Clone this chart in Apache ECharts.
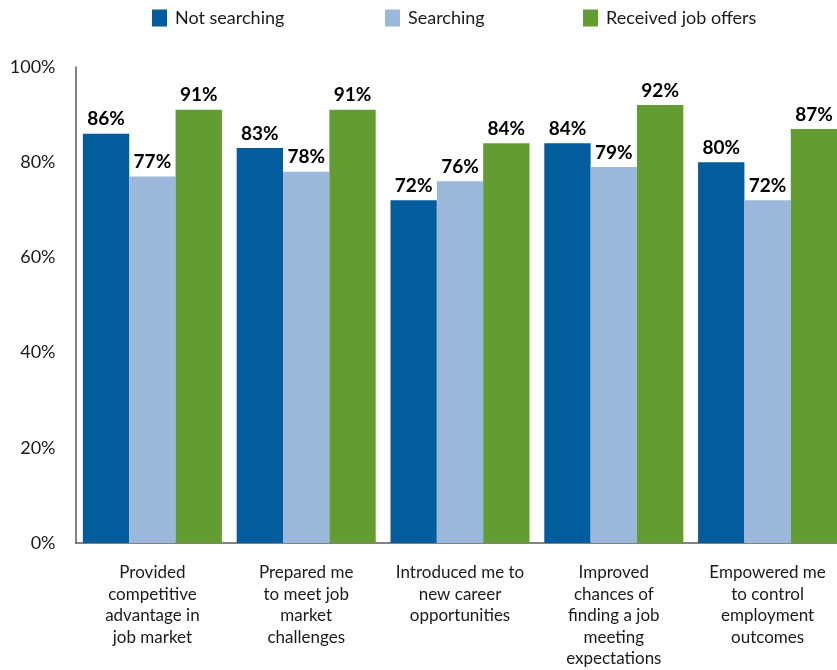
<!DOCTYPE html>
<html>
<head>
<meta charset="utf-8">
<script src="https://cdn.jsdelivr.net/npm/echarts@6/dist/echarts.min.js"></script>
<style>
  html, body { margin: 0; padding: 0; background: #fff; }
  #chart { width: 837px; height: 670px; }
</style>
</head>
<body>
<div id="chart"></div>
<script>
// Survey results: share of respondents agreeing, by job-search status
const categories = [
  'Provided\ncompetitive\nadvantage in\njob market',
  'Prepared me\nto meet job\nmarket\nchallenges',
  'Introduced me to\nnew career\nopportunities',
  'Improved\nchances of\nfinding a job\nmeeting\nexpectations',
  'Empowered me\nto control\nemployment\noutcomes'
];
const seriesNames = ['Not searching', 'Searching', 'Received job offers'];
const notSearching = [86, 83, 72, 84, 80];
const searching = [77, 78, 76, 79, 72];
const receivedOffers = [91, 91, 84, 92, 87];
const yTicks = [0, 20, 40, 60, 80, 100];

const colors = ['#035C9B', '#9BB8DB', '#649C34'];
const FONT = 'Lato, "Noto Sans", sans-serif';

const chart = echarts.init(document.getElementById('chart'), null, { renderer: 'canvas' });

// one legend block per series so each entry sits at its own x position
const legendLefts = [152, 385, 583];
const legends = seriesNames.map((name, i) => ({
  data: [name],
  left: legendLefts[i],
  top: 9,
  padding: 0,
  itemWidth: 15,
  itemHeight: 17,
  icon: 'rect',
  selectedMode: false,
  textStyle: { fontFamily: FONT, fontSize: 18, color: '#1a1a1a', padding: [0, 0, 0, 3] }
}));

const values = [notSearching, searching, receivedOffers];

chart.setOption({
  animation: false,
  backgroundColor: '#ffffff',
  legend: legends,
  // the last category band runs slightly past the right edge of the canvas
  grid: { left: 75.5, top: 67, width: 769, height: 476, outerBoundsMode: 'none', containLabel: false },
  xAxis: {
    type: 'category',
    data: categories,
    axisLine: { show: true, lineStyle: { color: '#5a5a5a', width: 1.5 } },
    axisTick: { show: false },
    axisLabel: {
      interval: 0,
      margin: 19,
      fontFamily: FONT,
      fontSize: 17,
      lineHeight: 21.5,
      color: '#1a1a1a',
      align: 'center'
    }
  },
  yAxis: {
    type: 'value',
    min: yTicks[0],
    max: yTicks[yTicks.length - 1],
    interval: 20,
    axisLine: { show: true, lineStyle: { color: '#5a5a5a', width: 1.5 } },
    axisTick: { show: false },
    splitLine: { show: false },
    axisLabel: {
      margin: 20,
      formatter: '{value}%',
      fontFamily: FONT,
      fontSize: 18,
      color: '#1a1a1a'
    }
  },
  series: seriesNames.map((name, i) => ({
    name: name,
    type: 'bar',
    data: values[i],
    barGap: '0%',
    barCategoryGap: '9.6%',
    itemStyle: { color: colors[i] },
    label: {
      show: true,
      position: 'top',
      distance: 5,
      formatter: '{c}%',
      fontFamily: FONT,
      fontSize: 19,
      fontWeight: 'bold',
      color: '#000'
    }
  }))
});
</script>
</body>
</html>
